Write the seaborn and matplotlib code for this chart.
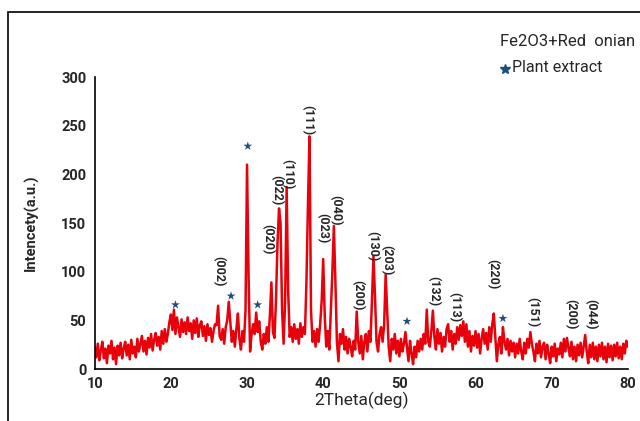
import numpy as np
import pandas as pd
import matplotlib.pyplot as plt
import seaborn as sns
from matplotlib.patches import Rectangle

sns.set_style("white")
plt.rcParams['font.family'] = ['Roboto', 'DejaVu Sans']

# ---------------- data ----------------
# 2theta grid, 0.2 deg step from 10 to 80
two_theta = np.round(np.arange(10, 80.001, 0.2), 1)

intensity = [
    22, 12, 26, 9, 19, 28, 11, 21, 6, 24,       # 10-12
    16, 29, 10, 22, 5, 24, 14, 27, 11, 21,      # 12-14
    28, 14, 25, 10, 30, 16, 23, 12, 31, 18,     # 14-16
    26, 34, 18, 29, 15, 32, 22, 36, 19, 30,     # 16-18
    37, 24, 33, 20, 39, 26, 41, 28, 36, 48,     # 18-20
    56, 40, 61, 36, 53, 43, 33, 51, 38, 48,     # 20-22
    36, 53, 39, 47, 31, 50, 37, 52, 33, 45,     # 22-24
    49, 34, 44, 29, 46, 35, 42, 28, 39, 46,     # 24-26
    45, 65, 34, 30, 41, 26, 43, 50, 69, 48,     # 26-28
    28, 39, 23, 41, 57, 31, 20, 39, 28, 60,     # 28-30
    210, 95, 18, 36, 46, 36, 58, 38, 49, 28,    # 30-32
    20, 36, 26, 43, 28, 55, 89, 38, 32, 70,     # 32-34
    130, 165, 150, 60, 26, 70, 187, 80, 33, 43,  # 34-36
    28, 46, 31, 41, 26, 47, 33, 43, 36, 90,     # 36-38
    170, 239, 60, 28, 39, 23, 41, 28, 46, 70,   # 38-40
    113, 55, 23, 39, 20, 60, 99, 147, 90, 28,   # 40-42
    8, 36, 26, 41, 20, 33, 16, 31, 23, 13,      # 42-44
    29, 20, 59, 28, 16, 34, 10, 28, 36, 18,     # 44-46
    39, 28, 70, 116, 75, 28, 18, 36, 43, 28,    # 46-48
    45, 97, 60, 23, 8, 31, 20, 36, 16, 29,      # 48-50
    13, 31, 18, 26, 38, 22, 8, 29, 16, 5,       # 50-52
    23, 12, 29, 18, 31, 20, 36, 26, 61, 28,     # 52-54
    23, 39, 60, 33, 20, 41, 26, 37, 18, 33,     # 54-56
    23, 41, 46, 28, 39, 20, 36, 26, 43, 30,     # 56-58
    45, 34, 49, 28, 46, 23, 39, 18, 34, 24,     # 58-60
    39, 22, 36, 16, 31, 41, 26, 37, 20, 43,     # 60-62
    28, 46, 57, 33, 8, 26, 33, 16, 43, 28,      # 62-64
    20, 31, 14, 29, 18, 27, 12, 26, 16, 31,     # 64-66
    18, 10, 27, 16, 31, 22, 38, 26, 18, 8,      # 66-68
    26, 16, 29, 12, 23, 27, 10, 25, 16, 6,      # 68-70
    23, 13, 26, 8, 21, 15, 27, 12, 31, 18,      # 70-72
    32, 22, 13, 28, 10, 23, 8, 25, 14, 27,      # 72-74
    12, 23, 35, 18, 6, 25, 12, 27, 10, 23,      # 74-76
    8, 25, 13, 27, 10, 23, 7, 26, 12, 24,       # 76-78
    9, 25, 13, 27, 11, 23, 10, 26, 16, 29,      # 78-80
    23,
]

# Miller index labels
hkl_labels = ["(002)", "(020)", "(022)", "(110)", "(111)", "(023)", "(040)", "(200)",
              "(130)", "(203)", "(132)", "(113)", "(220)", "(151)", "(200)", "(044)"]
hkl_x = [26.3, 32.7, 33.9, 35.35, 38.0, 39.95, 41.65, 44.55,
         46.5, 48.35, 54.5, 57.3, 62.3, 67.5, 72.5, 75.1]
hkl_y = [100, 133, 184, 200, 256, 145, 163, 76,
         126, 112, 80, 64, 97, 58, 56, 56]

# plant extract peaks (stars)
star_x = [20.6, 27.9, 30.1, 31.4, 51.0, 63.6]
star_y = [66, 75, 229, 66, 49, 52]

df = pd.DataFrame({"two_theta": two_theta, "intensity": intensity})
stars = pd.DataFrame({"x": star_x, "y": star_y})

# ---------------- plot ----------------
fig = plt.figure(figsize=(6.4, 4.21), dpi=100)
ax = fig.add_axes([0.148, 0.1235, 0.833, 0.6935])

sns.lineplot(data=df, x="two_theta", y="intensity", ax=ax,
             color="#e8000b", linewidth=1.8)
sns.scatterplot(data=stars, x="x", y="y", ax=ax, marker="*", s=45,
                color="#1f4e79", edgecolor="none", zorder=5)

for lab, lx, ly in zip(hkl_labels, hkl_x, hkl_y):
    ax.text(lx, ly, lab, rotation=-90, ha="center", va="center",
            fontsize=9, fontweight="bold")

ax.set_xlim(10, 80)
ax.set_ylim(0, 300)
ax.set_xticks(range(10, 81, 10))
ax.set_yticks(range(0, 301, 50))
ax.tick_params(length=0, labelsize=10.5, pad=6)
for t in ax.get_xticklabels() + ax.get_yticklabels():
    t.set_fontweight("bold")
ax.set_xlabel("2Theta(deg)", fontsize=12.5, labelpad=0)
ax.set_ylabel("Intencety(a.u.)", fontsize=10.5, fontweight="bold", labelpad=16)
sns.despine(ax=ax)
for s in ["left", "bottom"]:
    ax.spines[s].set_color("black")
    ax.spines[s].set_linewidth(1.2)

# outer frame
fig.patches.append(Rectangle((8 / 640, -0.01), 1.0, 1 - 12 / 421 + 0.01,
                             transform=fig.transFigure, fill=False,
                             edgecolor="black", linewidth=1.2))

fig.text(500 / 640, 1 - 42 / 421, "Fe2O3+Red  onian", fontsize=12,
         ha="left", va="center")
fig.text(512 / 640, 1 - 67 / 421, "Plant extract", fontsize=11.5,
         ha="left", va="center")
fig.lines.append(plt.Line2D([505 / 640], [1 - 69 / 421], marker="*",
                            markersize=7, color="#1f4e79", linestyle="none",
                            transform=fig.transFigure))

fig.savefig("out.png", dpi=100)
